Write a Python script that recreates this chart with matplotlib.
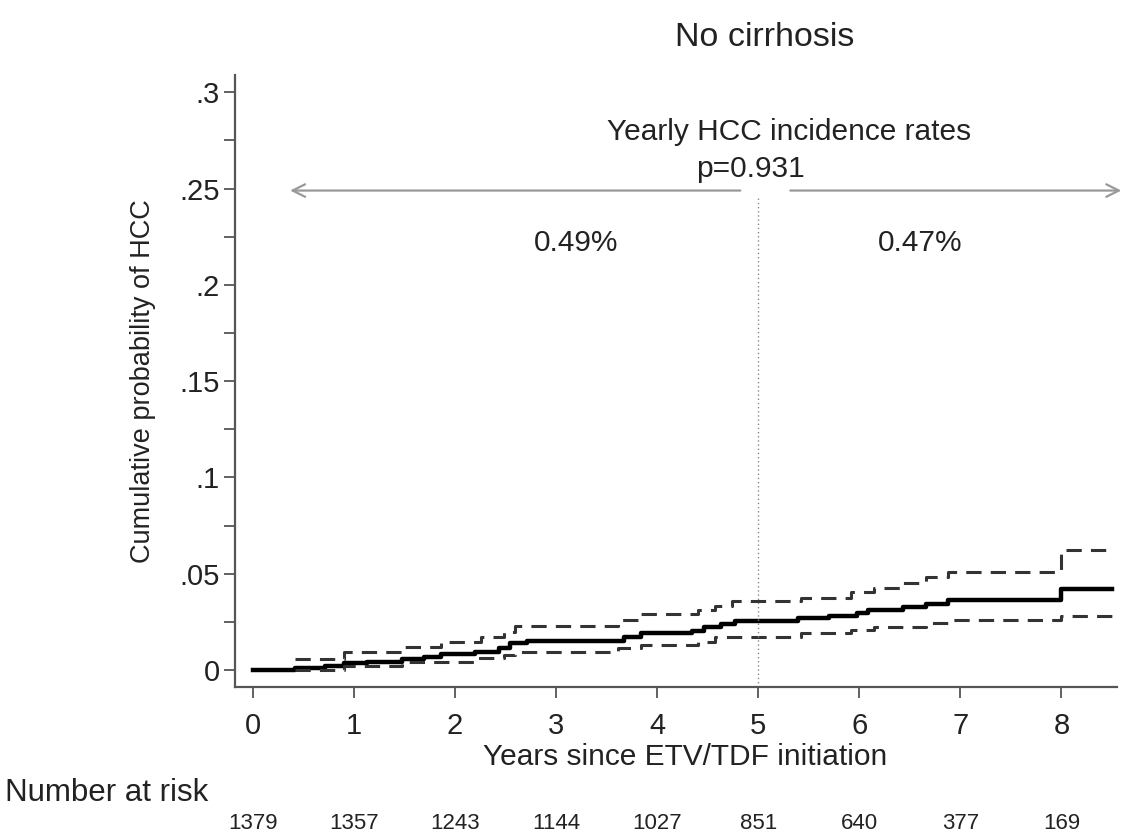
import matplotlib
matplotlib.use("Agg")
import matplotlib.pyplot as plt
from matplotlib.ticker import MultipleLocator

plt.rcParams['font.family'] = ['Liberation Sans', 'DejaVu Sans']

# KM estimate
km_t = [0, 0.42, 0.71, 0.90, 1.13, 1.47, 1.69, 1.86, 2.20, 2.43, 2.54, 2.71, 3.67, 3.84,
        4.34, 4.46, 4.63, 4.77, 5.39, 5.70, 5.98, 6.09, 6.43, 6.66, 6.88, 8.0, 8.5]
km_v = [0, 0.0009, 0.0023, 0.0035, 0.0043, 0.0055, 0.0069, 0.0081, 0.0095, 0.0116, 0.0139,
        0.0153, 0.0173, 0.0191, 0.0203, 0.0225, 0.0239, 0.0257, 0.0269, 0.0283, 0.0295,
        0.0312, 0.0326, 0.0343, 0.0364, 0.042, 0.042]

# upper CI
up_t = [0.42, 0.90, 1.47, 1.86, 2.26, 2.48, 2.59, 3.61, 3.84, 4.40, 4.57, 4.74, 5.42,
        5.92, 6.15, 6.43, 6.66, 6.88, 8.0, 8.5]
up_v = [0.0055, 0.0093, 0.0121, 0.0147, 0.0173, 0.0199, 0.0229, 0.026, 0.029, 0.0312,
        0.0333, 0.0359, 0.0373, 0.0407, 0.0425, 0.0451, 0.0482, 0.0511, 0.0624, 0.0624]

# lower CI
lo_t = [0.42, 0.90, 1.47, 2.20, 2.48, 2.59, 3.61, 3.84, 4.40, 4.57, 5.42, 5.92, 6.15,
        6.66, 6.88, 8.0, 8.5]
lo_v = [0.0, 0.0023, 0.0043, 0.0061, 0.0078, 0.0095, 0.0116, 0.013, 0.0147, 0.0173,
        0.0191, 0.0208, 0.0225, 0.0243, 0.026, 0.028, 0.028]

risk_years = [0, 1, 2, 3, 4, 5, 6, 7, 8]
risk_n = [1379, 1357, 1243, 1144, 1027, 851, 640, 377, 169]

y_ticks = [0, 0.05, 0.1, 0.15, 0.2, 0.25, 0.3]
y_ticklabels = ['0', '.05', '.1', '.15', '.2', '.25', '.3']

title = "No cirrhosis"
rate_before = "0.49%"
rate_after = "0.47%"
p_text = "p=0.931"

TXT = '#222222'
fig = plt.figure(figsize=(11.28, 8.38), dpi=100)
ax = fig.add_axes([235/1128, 1-687/838, (1117-235)/1128, (687-75)/838])

ax.step(km_t, km_v, where='post', color='black', lw=3.2)
ax.step(up_t, up_v, where='post', color='#333333', lw=2.2, dashes=(5, 3))
ax.step(lo_t, lo_v, where='post', color='#333333', lw=2.2, dashes=(5, 3))

ax.set_xlim(-0.178, 8.55)
ax.set_ylim(-0.0088, 0.309)

ax.axvline(5, ymin=0, ymax=(0.245+0.0088)/(0.309+0.0088), color='#888888', lw=1, ls=(0, (1, 2)))

arrow_kw = dict(arrowstyle='->,head_length=0.9,head_width=0.45', color='#999999', lw=1.6)
ax.annotate('', xy=(0.34, 0.249), xytext=(4.85, 0.249), arrowprops=arrow_kw, annotation_clip=False)
ax.annotate('', xy=(8.62, 0.249), xytext=(5.29, 0.249), arrowprops=arrow_kw, annotation_clip=False)

ax.text(5.3, 0.2795, "Yearly HCC incidence rates", ha='center', va='center', fontsize=21.5, color=TXT)
ax.text(4.92, 0.260, p_text, ha='center', va='center', fontsize=21.5, color=TXT)
ax.text(3.2, 0.222, rate_before, ha='center', va='center', fontsize=21.5, color=TXT)
ax.text(6.6, 0.222, rate_after, ha='center', va='center', fontsize=21.5, color=TXT)

fig.text(765/1128, 1-38/838, title, ha='center', va='center', fontsize=24.5, color=TXT)

ax.set_xticks(risk_years)
ax.set_xticklabels([str(v) for v in risk_years])
ax.set_yticks(y_ticks)
ax.set_yticklabels(y_ticklabels)
ax.yaxis.set_minor_locator(MultipleLocator(0.025))
ax.tick_params(axis='x', which='major', labelsize=21, length=8, width=1.3, color='#555555',
               labelcolor=TXT, pad=10)
ax.tick_params(axis='y', which='major', labelsize=21, length=8, width=1.3, color='#555555',
               labelcolor=TXT, pad=3)
ax.tick_params(axis='y', which='minor', length=8, width=1.3, color='#555555')
for s in ['top', 'right']:
    ax.spines[s].set_visible(False)
for s in ['left', 'bottom']:
    ax.spines[s].set_color('#555555')
    ax.spines[s].set_linewidth(1.6)

ax.set_ylabel("Cumulative probability of HCC", fontsize=19.5, color=TXT)
ax.yaxis.set_label_coords((143-235)/882, (687-381)/612)
ax.yaxis.label.set_va('center')
ax.set_xlabel("Years since ETV/TDF initiation", fontsize=21.5, color=TXT)
ax.xaxis.set_label_coords((685-235)/882, (687-757)/612)
ax.xaxis.label.set_va('center')

fig.text(5/1128, 1-793/838, "Number at risk", ha='left', va='center', fontsize=22.5, color=TXT)
for yr, n in zip(risk_years, risk_n):
    ax.annotate(str(n), xy=(yr, 1-823/838), xycoords=('data', 'figure fraction'),
                ha='center', va='center', fontsize=16, color=TXT, annotation_clip=False)

fig.savefig("out.png", dpi=100)
